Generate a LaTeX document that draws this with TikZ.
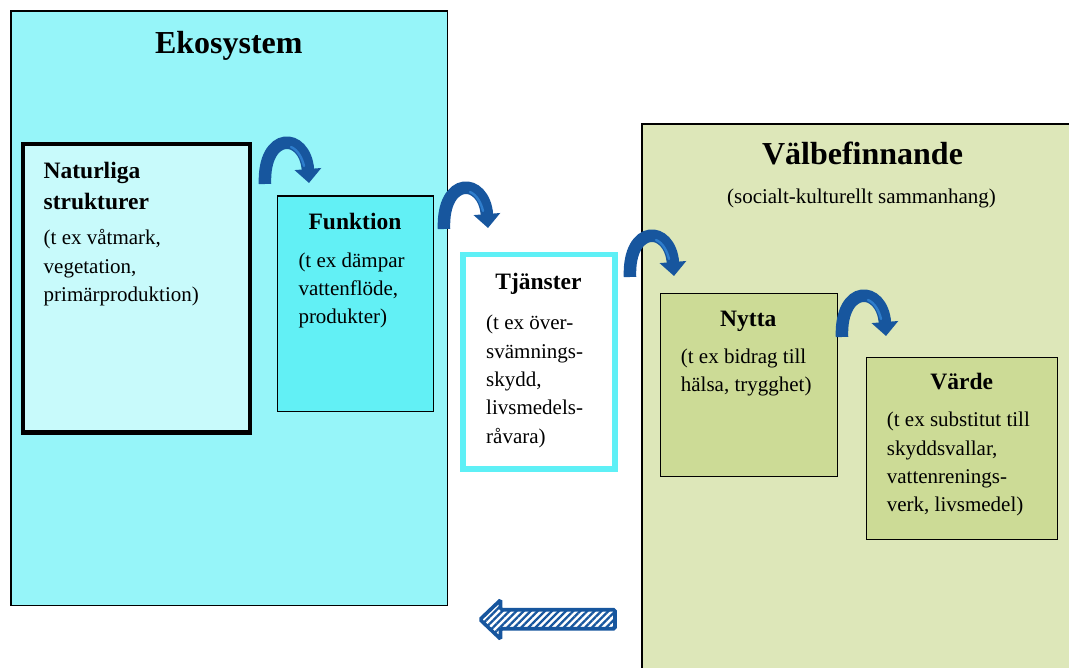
\documentclass[tikz,border=0pt]{standalone}
\usepackage{fontspec}
\setmainfont{Liberation Serif}
\usetikzlibrary{arrows.meta,patterns.meta}

\definecolor{ekofill}{HTML}{96F5F9}
\definecolor{natfill}{HTML}{C8FAFB}
\definecolor{funkfill}{HTML}{62F0F5}
\definecolor{tjline}{HTML}{5EF0F6}
\definecolor{valfill}{HTML}{DDE7B9}
\definecolor{nyttafill}{HTML}{CCDB96}
\definecolor{arcblue}{HTML}{17569E}
\definecolor{arclight}{HTML}{2E7DCC}

\tikzset{
  box/.style={draw=black, line width=1.4pt, inner sep=0pt, outer sep=0pt},
  bigtitle/.style={anchor=base, inner sep=0pt, font=\fontsize{32}{38}\selectfont\bfseries},
  heading/.style={inner sep=0pt, font=\fontsize{23.5}{31}\selectfont\bfseries},
  % multi-line texts are placed by the baseline of their last line
  bodytext/.style={anchor=base west, inner sep=0pt, align=left, font=\fontsize{21}{28.35}\selectfont},
  bendarrow/.pic={
    \draw[arcblue, line width=12.5pt, -{Triangle[width=26pt,length=14pt]}]
      (7,46) .. controls (5,-7) and (47,-6) .. (51,45);
    \draw[arclight, line width=2.4pt, line cap=round]
      (33,9) .. controls (40,12) and (44,20) .. (46,28);
  }
}

\begin{document}
\begin{tikzpicture}[x=1pt,y=-1pt]
\clip (0,0) rectangle (1069,668);

% outer frames
\node[box, fill=ekofill, minimum width=436.5pt, minimum height=594.5pt] (eko) at (229.25,308.25) {};
\node[box, fill=valfill, minimum width=448pt, minimum height=576pt] (val) at (866,412) {};

% ecosystem side
\node[box, line width=4.3pt, fill=natfill, minimum width=227pt, minimum height=288.5pt] (nat) at (136.5,288.25) {};
\node[box, fill=funkfill, minimum width=155.6pt, minimum height=215.7pt] (funk) at (355.5,303.85) {};
\node[box, draw=tjline, line width=5.5pt, fill=white, minimum width=152pt, minimum height=214.3pt] (tj) at (539,361.65) {};

% well-being side
\node[box, fill=nyttafill, minimum width=177.4pt, minimum height=183pt] (nytta) at (749,385.2) {};
\node[box, fill=nyttafill, minimum width=191.4pt, minimum height=182pt] (varde) at (962,448.7) {};

% texts
\node[bigtitle] (t-eko) at (228.8,53.3) {Ekosystem};
\node[bigtitle] (t-val) at (862.5,165) {Välbefinnande};
\node[anchor=base, inner sep=0pt, font=\fontsize{21}{28.4}\selectfont] (t-valsub) at (861.5,203.3) {(socialt-kulturellt sammanhang)};

\node[heading, anchor=base west, align=left] (t-nat) at (43.5,209.3) {Naturliga\\strukturer};
\node[bodytext] (b-nat) at (43.5,301.7) {(t ex våtmark,\\vegetation,\\primärproduktion)};

\node[heading, anchor=base] (t-funk) at (355,230) {Funktion};
\node[bodytext] (b-funk) at (298.3,323.8) {(t ex dämpar\\vattenflöde,\\produkter)};

\node[heading, anchor=base] (t-tj) at (538.5,289.3) {Tjänster};
\node[bodytext] (b-tj) at (486,443.3) {(t ex över-\\svämnings-\\skydd,\\livsmedels-\\råvara)};

\node[heading, anchor=base] (t-nytta) at (748.3,327) {Nytta};
\node[bodytext] (b-nytta) at (680.7,391.7) {(t ex bidrag till\\hälsa, trygghet)};

\node[heading, anchor=base] (t-varde) at (961.8,390) {Värde};
\node[bodytext] (b-varde) at (886.7,511.7) {(t ex substitut till\\skyddsvallar,\\vattenrenings-\\verk, livsmedel)};

% curved step arrows between the stages
\pic at (258,138) {bendarrow};
\pic at (437,183) {bendarrow};
\pic at (623,231) {bendarrow};
\pic at (835,291) {bendarrow};

% hatched return arrow
\path[draw=arcblue, line width=3.6pt, rounded corners=1.5pt,
      pattern={Lines[angle=45,distance=5pt,line width=2.3pt]}, pattern color=arcblue]
  (480,619.5) -- (500.5,600) -- (500.5,609.7) -- (615,609.7) -- (615,628.7)
  -- (500.5,628.7) -- (500.5,639) -- cycle;
\end{tikzpicture}
\end{document}
